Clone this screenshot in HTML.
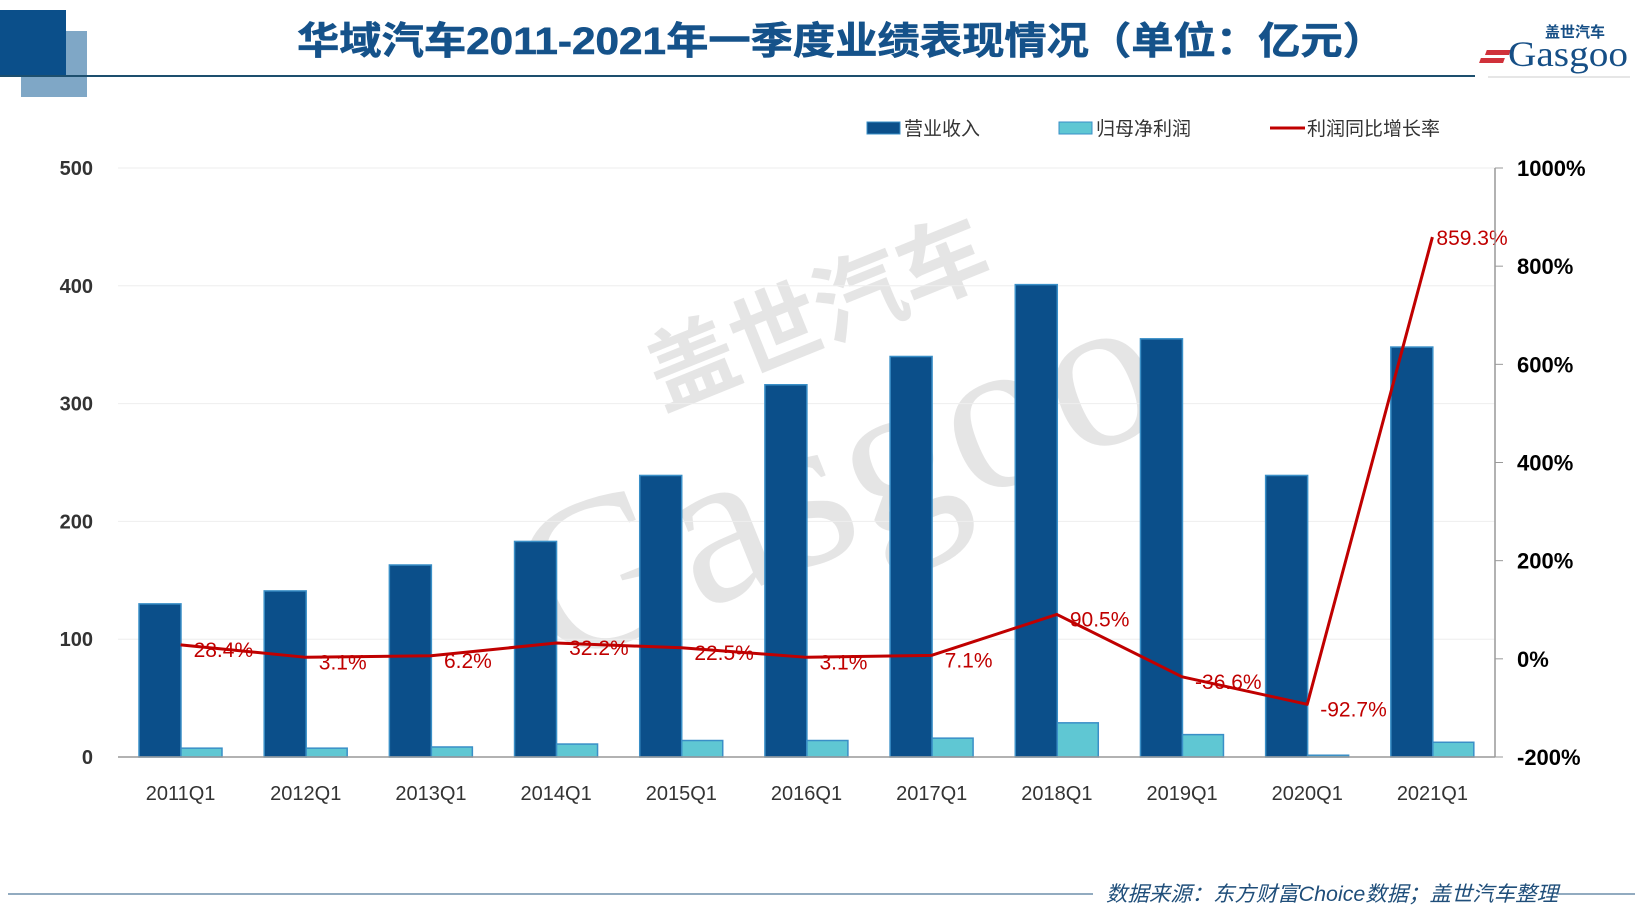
<!DOCTYPE html>
<html><head><meta charset="utf-8"><style>
html,body{margin:0;padding:0;background:#fff;}
svg{display:block;font-family:"Liberation Sans","Noto Sans CJK SC",sans-serif;}
</style></head><body>
<svg id="chart" width="1640" height="920" viewBox="0 0 1640 920">
  <g>
    <rect x="21" y="31" width="66" height="66" fill="#7fa7c6"/>
    <rect x="0" y="10" width="66" height="66" fill="#0b4f8a"/>
    <line x1="0" y1="76" x2="1475" y2="76" stroke="#1d4f6e" stroke-width="2"/>
  </g>
  <text x="297" y="54" textLength="1088" lengthAdjust="spacingAndGlyphs" font-size="38" font-weight="bold" fill="#15528a" stroke="#15528a" stroke-width="0.6" font-family="Liberation Sans,Noto Sans CJK SC,sans-serif">华域汽车2011-2021年一季度业绩表现情况（单位：亿元）</text>
  <g>
    <rect x="1505" y="50" width="24" height="5" fill="#d0313a" transform="skewX(-20)"/>
    <rect x="1502" y="58" width="24" height="5" fill="#d0313a" transform="skewX(-20)"/>
    <text x="1508" y="66" font-size="36" fill="#164f86" font-family="Liberation Serif,serif" textLength="120" lengthAdjust="spacingAndGlyphs">Gasgoo</text>
    <text x="1545" y="37" font-size="15" font-weight="bold" fill="#164f86" font-family="Liberation Sans,Noto Sans CJK SC,sans-serif">盖世汽车</text>
    <line x1="1488" y1="77" x2="1630" y2="77" stroke="#ccc"/>
  </g>
  <g opacity="0.12" transform="rotate(-22 800 430)">
    <text x="680" y="360" font-size="90" font-weight="bold" fill="#333" font-family="Liberation Sans,Noto Sans CJK SC,sans-serif">盖世汽车</text>
    <text x="480" y="560" font-size="220" fill="#333" font-family="Liberation Serif,serif">Gasgoo</text>
  </g>
  <g id="grid"></g>
  <g id="bars"></g>
  <g id="line"></g>
  <g id="axes"></g>
  <g font-size="19" fill="#333" font-family="Liberation Sans,Noto Sans CJK SC,sans-serif">
    <g>
      <rect x="867" y="122" width="33" height="12" fill="#0b4f8a" stroke="#3a8fc7"/>
      <text x="904" y="135" fill="#333">营业收入</text>
    </g>
    <g>
      <rect x="1059" y="122" width="33" height="12" fill="#5fc7d3" stroke="#3a8fc7"/>
      <text x="1096" y="135" fill="#333">归母净利润</text>
    </g>
    <g>
      <line x1="1270" y1="128" x2="1305" y2="128" stroke="#c00000" stroke-width="3"/>
      <text x="1307" y="135" fill="#333">利润同比增长率</text>
    </g>
  </g>
  <g>
    <line x1="8" y1="894" x2="1093" y2="894" stroke="#6f8fab" stroke-width="1.5"/>
    <line x1="1556" y1="894" x2="1635" y2="894" stroke="#6f8fab" stroke-width="1.5"/>
    <text x="1106" y="901" font-size="21" font-style="italic" fill="#1f4e7a" textLength="452" lengthAdjust="spacingAndGlyphs" font-family="Liberation Sans,Noto Sans CJK SC,sans-serif">数据来源：东方财富Choice数据；盖世汽车整理</text>
  </g>
</svg>
<script>
const categories = ["2011Q1","2012Q1","2013Q1","2014Q1","2015Q1","2016Q1","2017Q1","2018Q1","2019Q1","2020Q1","2021Q1"];
const revenue = [130,141,163,183,239,316,340,401,355,239,348];
const netProfit = [7.5,7.5,8.5,11,14,14,16,29,19,1.5,12.5];
const growth = [28.4,3.1,6.2,32.2,22.5,3.1,7.1,90.5,-36.6,-92.7,859.3];
const leftTicks = [0,100,200,300,400,500];
const rightTicks = [-200,0,200,400,600,800,1000];

const NS = "http://www.w3.org/2000/svg";
const X0 = 118, X1 = 1495, YT = 168, YB = 757;
const catW = (X1 - X0) / categories.length;
const yL = v => YB - (v / 500) * (YB - YT);
const yR = v => YB - ((v + 200) / 1200) * (YB - YT);
const xCat = i => X0 + i * catW;
function mk(tag, attrs, parent) {
  const e = document.createElementNS(NS, tag);
  for (const k in attrs) e.setAttribute(k, attrs[k]);
  parent.appendChild(e);
  return e;
}
const grid = document.getElementById("grid");
const bars = document.getElementById("bars");
const lineG = document.getElementById("line");
const axes = document.getElementById("axes");

leftTicks.forEach(t => {
  if (t > 0) {
    const g = mk("line", {x1: X0, x2: X1, y1: yL(t), y2: yL(t), stroke: "#eeeeee", "stroke-width": 1}, grid);
    
    
  }
  const tx = mk("text", {x: 93, y: yL(t) + 7, "text-anchor": "end", "font-size": 20, "font-weight": "bold", fill: "#333"}, axes);
  
  
  tx.textContent = t;
});
rightTicks.forEach(t => {
  const tk = mk("line", {x1: X1, x2: X1 + 8, y1: yR(t), y2: yR(t), stroke: "#999"}, axes);
  
  
  const tx = mk("text", {x: 1517, y: yR(t) + 8, "font-size": 22, "font-weight": "bold", fill: "#000"}, axes);
  
  
  tx.textContent = t + "%";
});
const ra = mk("line", {x1: X1, x2: X1, y1: YT, y2: YB, stroke: "#999", "stroke-width": 1.5}, axes);



categories.forEach((c, i) => {
  const x = xCat(i);
  const b1 = mk("rect", {x: x + 21, y: yL(revenue[i]), width: 42, height: YB - yL(revenue[i]), fill: "#0b4f8a", stroke: "#3a8fc7", "stroke-width": 1.5}, bars);
  
  
  const b2 = mk("rect", {x: x + 63, y: yL(netProfit[i]), width: 41, height: YB - yL(netProfit[i]), fill: "#5fc7d3", stroke: "#3a8fc7", "stroke-width": 1.5}, bars);
  
  
  const lb = mk("text", {x: x + catW / 2, y: 800, "text-anchor": "middle", "font-size": 20, fill: "#333"}, axes);
  
  
  lb.textContent = c;
});
const xa = mk("line", {x1: X0, x2: X1, y1: YB, y2: YB, stroke: "#999", "stroke-width": 1.5}, axes);



const pts = growth.map((g, i) => (xCat(i) + catW / 2) + "," + yR(g)).join(" ");
const pl = mk("polyline", {points: pts, fill: "none", stroke: "#c00000", "stroke-width": 3, "stroke-linejoin": "round"}, lineG);


growth.forEach((g, i) => {
  const last = i === growth.length - 1;
  const t = mk("text", {x: xCat(i) + catW / 2 + (last ? 4 : 13), y: yR(g) + (last ? 8 : 12), "font-size": 21, fill: "#c00000"}, lineG);
  
  
  t.textContent = g.toFixed(1) + "%";
});
</script>
</body></html>
